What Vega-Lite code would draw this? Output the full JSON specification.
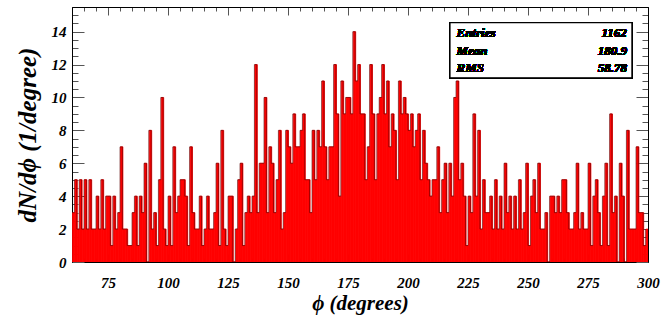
{
"$schema": "https://vega.github.io/schema/vega-lite/v6.json",
"width": 576, "height": 255,
"autosize": {"type": "none"},
"padding": {"left": 72, "top": 7, "right": 20, "bottom": 62},
"background": "white",
"config": {"view": {"stroke": "black", "strokeWidth": 1}, "font": "Liberation Serif"},
"data": {"values": [
{"lo":60,"hi":61,"n":3},{"lo":61,"hi":62,"n":5},{"lo":62,"hi":63,"n":2},{"lo":63,"hi":64,"n":5},{"lo":64,"hi":65,"n":2},{"lo":65,"hi":66,"n":5},{"lo":66,"hi":67,"n":2},{"lo":67,"hi":68,"n":5},{"lo":68,"hi":69,"n":2},{"lo":69,"hi":70,"n":2},
{"lo":70,"hi":71,"n":4},{"lo":71,"hi":72,"n":2},{"lo":72,"hi":73,"n":5},{"lo":73,"hi":74,"n":2},{"lo":74,"hi":75,"n":4},{"lo":75,"hi":76,"n":4},{"lo":76,"hi":77,"n":1},{"lo":77,"hi":78,"n":4},{"lo":78,"hi":79,"n":2},{"lo":79,"hi":80,"n":3},
{"lo":80,"hi":81,"n":7},{"lo":81,"hi":82,"n":2},{"lo":82,"hi":83,"n":2},{"lo":83,"hi":84,"n":1},{"lo":84,"hi":85,"n":1},{"lo":85,"hi":86,"n":3},{"lo":86,"hi":87,"n":4},{"lo":87,"hi":88,"n":1},{"lo":88,"hi":89,"n":4},{"lo":89,"hi":90,"n":3},
{"lo":90,"hi":91,"n":6},{"lo":91,"hi":92,"n":0},{"lo":92,"hi":93,"n":8},{"lo":93,"hi":94,"n":2},{"lo":94,"hi":95,"n":3},{"lo":95,"hi":96,"n":1},{"lo":96,"hi":97,"n":5},{"lo":97,"hi":98,"n":10},{"lo":98,"hi":99,"n":2},{"lo":99,"hi":100,"n":1},
{"lo":100,"hi":101,"n":4},{"lo":101,"hi":102,"n":1},{"lo":102,"hi":103,"n":7},{"lo":103,"hi":104,"n":3},{"lo":104,"hi":105,"n":4},{"lo":105,"hi":106,"n":5},{"lo":106,"hi":107,"n":5},{"lo":107,"hi":108,"n":4},{"lo":108,"hi":109,"n":1},{"lo":109,"hi":110,"n":7},
{"lo":110,"hi":111,"n":3},{"lo":111,"hi":112,"n":2},{"lo":112,"hi":113,"n":2},{"lo":113,"hi":114,"n":4},{"lo":114,"hi":115,"n":1},{"lo":115,"hi":116,"n":2},{"lo":116,"hi":117,"n":4},{"lo":117,"hi":118,"n":2},{"lo":118,"hi":119,"n":2},{"lo":119,"hi":120,"n":3},
{"lo":120,"hi":121,"n":6},{"lo":121,"hi":122,"n":1},{"lo":122,"hi":123,"n":8},{"lo":123,"hi":124,"n":2},{"lo":124,"hi":125,"n":1},{"lo":125,"hi":126,"n":4},{"lo":126,"hi":127,"n":4},{"lo":127,"hi":128,"n":0},{"lo":128,"hi":129,"n":2},{"lo":129,"hi":130,"n":5},
{"lo":130,"hi":131,"n":6},{"lo":131,"hi":132,"n":1},{"lo":132,"hi":133,"n":3},{"lo":133,"hi":134,"n":4},{"lo":134,"hi":135,"n":3},{"lo":135,"hi":136,"n":4},{"lo":136,"hi":137,"n":12},{"lo":137,"hi":138,"n":3},{"lo":138,"hi":139,"n":6},{"lo":139,"hi":140,"n":6},
{"lo":140,"hi":141,"n":10},{"lo":141,"hi":142,"n":3},{"lo":142,"hi":143,"n":7},{"lo":143,"hi":144,"n":6},{"lo":144,"hi":145,"n":3},{"lo":145,"hi":146,"n":5},{"lo":146,"hi":147,"n":8},{"lo":147,"hi":148,"n":2},{"lo":148,"hi":149,"n":3},{"lo":149,"hi":150,"n":8},
{"lo":150,"hi":151,"n":7},{"lo":151,"hi":152,"n":6},{"lo":152,"hi":153,"n":9},{"lo":153,"hi":154,"n":7},{"lo":154,"hi":155,"n":7},{"lo":155,"hi":156,"n":8},{"lo":156,"hi":157,"n":9},{"lo":157,"hi":158,"n":5},{"lo":158,"hi":159,"n":5},{"lo":159,"hi":160,"n":3},
{"lo":160,"hi":161,"n":8},{"lo":161,"hi":162,"n":5},{"lo":162,"hi":163,"n":8},{"lo":163,"hi":164,"n":7},{"lo":164,"hi":165,"n":11},{"lo":165,"hi":166,"n":7},{"lo":166,"hi":167,"n":5},{"lo":167,"hi":168,"n":7},{"lo":168,"hi":169,"n":7},{"lo":169,"hi":170,"n":12},
{"lo":170,"hi":171,"n":9},{"lo":171,"hi":172,"n":4},{"lo":172,"hi":173,"n":11},{"lo":173,"hi":174,"n":9},{"lo":174,"hi":175,"n":10},{"lo":175,"hi":176,"n":10},{"lo":176,"hi":177,"n":9},{"lo":177,"hi":178,"n":14},{"lo":178,"hi":179,"n":11},{"lo":179,"hi":180,"n":12},
{"lo":180,"hi":181,"n":9},{"lo":181,"hi":182,"n":9},{"lo":182,"hi":183,"n":5},{"lo":183,"hi":184,"n":7},{"lo":184,"hi":185,"n":12},{"lo":185,"hi":186,"n":9},{"lo":186,"hi":187,"n":5},{"lo":187,"hi":188,"n":9},{"lo":188,"hi":189,"n":10},{"lo":189,"hi":190,"n":12},
{"lo":190,"hi":191,"n":9},{"lo":191,"hi":192,"n":11},{"lo":192,"hi":193,"n":7},{"lo":193,"hi":194,"n":9},{"lo":194,"hi":195,"n":8},{"lo":195,"hi":196,"n":5},{"lo":196,"hi":197,"n":11},{"lo":197,"hi":198,"n":9},{"lo":198,"hi":199,"n":10},{"lo":199,"hi":200,"n":9},
{"lo":200,"hi":201,"n":8},{"lo":201,"hi":202,"n":9},{"lo":202,"hi":203,"n":7},{"lo":203,"hi":204,"n":8},{"lo":204,"hi":205,"n":9},{"lo":205,"hi":206,"n":5},{"lo":206,"hi":207,"n":8},{"lo":207,"hi":208,"n":6},{"lo":208,"hi":209,"n":5},{"lo":209,"hi":210,"n":4},
{"lo":210,"hi":211,"n":5},{"lo":211,"hi":212,"n":5},{"lo":212,"hi":213,"n":7},{"lo":213,"hi":214,"n":3},{"lo":214,"hi":215,"n":5},{"lo":215,"hi":216,"n":6},{"lo":216,"hi":217,"n":3},{"lo":217,"hi":218,"n":6},{"lo":218,"hi":219,"n":4},{"lo":219,"hi":220,"n":10},
{"lo":220,"hi":221,"n":11},{"lo":221,"hi":222,"n":5},{"lo":222,"hi":223,"n":6},{"lo":223,"hi":224,"n":4},{"lo":224,"hi":225,"n":1},{"lo":225,"hi":226,"n":4},{"lo":226,"hi":227,"n":3},{"lo":227,"hi":228,"n":9},{"lo":228,"hi":229,"n":4},{"lo":229,"hi":230,"n":8},
{"lo":230,"hi":231,"n":2},{"lo":231,"hi":232,"n":5},{"lo":232,"hi":233,"n":3},{"lo":233,"hi":234,"n":3},{"lo":234,"hi":235,"n":4},{"lo":235,"hi":236,"n":2},{"lo":236,"hi":237,"n":5},{"lo":237,"hi":238,"n":2},{"lo":238,"hi":239,"n":4},{"lo":239,"hi":240,"n":2},
{"lo":240,"hi":241,"n":6},{"lo":241,"hi":242,"n":3},{"lo":242,"hi":243,"n":4},{"lo":243,"hi":244,"n":2},{"lo":244,"hi":245,"n":4},{"lo":245,"hi":246,"n":2},{"lo":246,"hi":247,"n":5},{"lo":247,"hi":248,"n":2},{"lo":248,"hi":249,"n":3},{"lo":249,"hi":250,"n":6},
{"lo":250,"hi":251,"n":1},{"lo":251,"hi":252,"n":4},{"lo":252,"hi":253,"n":5},{"lo":253,"hi":254,"n":3},{"lo":254,"hi":255,"n":6},{"lo":255,"hi":256,"n":2},{"lo":256,"hi":257,"n":2},{"lo":257,"hi":258,"n":3},{"lo":258,"hi":259,"n":0},{"lo":259,"hi":260,"n":4},
{"lo":260,"hi":261,"n":4},{"lo":261,"hi":262,"n":3},{"lo":262,"hi":263,"n":4},{"lo":263,"hi":264,"n":3},{"lo":264,"hi":265,"n":5},{"lo":265,"hi":266,"n":5},{"lo":266,"hi":267,"n":3},{"lo":267,"hi":268,"n":2},{"lo":268,"hi":269,"n":2},{"lo":269,"hi":270,"n":3},
{"lo":270,"hi":271,"n":6},{"lo":271,"hi":272,"n":2},{"lo":272,"hi":273,"n":3},{"lo":273,"hi":274,"n":2},{"lo":274,"hi":275,"n":2},{"lo":275,"hi":276,"n":6},{"lo":276,"hi":277,"n":1},{"lo":277,"hi":278,"n":4},{"lo":278,"hi":279,"n":5},{"lo":279,"hi":280,"n":3},
{"lo":280,"hi":281,"n":1},{"lo":281,"hi":282,"n":4},{"lo":282,"hi":283,"n":6},{"lo":283,"hi":284,"n":1},{"lo":284,"hi":285,"n":9},{"lo":285,"hi":286,"n":3},{"lo":286,"hi":287,"n":4},{"lo":287,"hi":288,"n":0},{"lo":288,"hi":289,"n":6},{"lo":289,"hi":290,"n":4},
{"lo":290,"hi":291,"n":0},{"lo":291,"hi":292,"n":8},{"lo":292,"hi":293,"n":2},{"lo":293,"hi":294,"n":2},{"lo":294,"hi":295,"n":2},{"lo":295,"hi":296,"n":7},{"lo":296,"hi":297,"n":3},{"lo":297,"hi":298,"n":3},{"lo":298,"hi":299,"n":1},{"lo":299,"hi":300,"n":2}
]},
"layer": [
{"mark": {"type": "bar", "color": "#ff0000", "stroke": "#ff0000", "strokeWidth": 0.8, "clip": true, "binSpacing": 0},
 "encoding": {
  "x": {"field": "lo", "type": "quantitative", "bin": {"binned": true}, "scale": {"domain": [60, 300], "nice": false, "zero": false},
   "axis": {"orient": "bottom", "values": [60,65,70,75,80,85,90,95,100,105,110,115,120,125,130,135,140,145,150,155,160,165,170,175,180,185,190,195,200,205,210,215,220,225,230,235,240,245,250,255,260,265,270,275,280,285,290,295,300],
    "labelExpr": "datum.value % 25 === 0 ? format(datum.value, 'd') : ''",
    "tickSize": {"condition": {"test": "datum.value % 25 === 0", "value": -8}, "value": -4},
    "tickColor": "#555", "domainColor": "black", "grid": false,
    "labelPadding": 21, "labelFont": "Liberation Serif", "labelFontSize": 15, "labelFontWeight": "bold", "labelFontStyle": "italic", "labelColor": "black", "labelFlush": false, "labelOverlap": false,
    "title": "ϕ (degrees)", "titleFont": "Liberation Serif", "titleFontSize": 21, "titleFontWeight": "bold", "titleFontStyle": "italic", "titleColor": "black", "titlePadding": -2}},
  "x2": {"field": "hi"},
  "y": {"field": "n", "type": "quantitative", "scale": {"domain": [0, 15.5], "nice": false},
   "axis": {"orient": "left", "values": [0,0.5,1,1.5,2,2.5,3,3.5,4,4.5,5,5.5,6,6.5,7,7.5,8,8.5,9,9.5,10,10.5,11,11.5,12,12.5,13,13.5,14,14.5,15],
    "labelExpr": "datum.value % 2 === 0 ? format(datum.value, 'd') : ''",
    "tickSize": {"condition": {"test": "datum.value % 2 === 0", "value": -12}, "value": -6},
    "tickColor": "#555", "domainColor": "black", "grid": false,
    "labelPadding": 18, "labelFont": "Liberation Serif", "labelFontSize": 15, "labelFontWeight": "bold", "labelFontStyle": "italic", "labelColor": "black", "labelFlush": false, "labelOverlap": false,
    "title": "dN/dϕ (1/degree)", "titleFont": "Liberation Serif", "titleFontSize": 25, "titleFontWeight": "bold", "titleFontStyle": "italic", "titleColor": "black", "titlePadding": 11}}
 }},
{"mark": {"type": "line", "interpolate": "step-after", "color": "#5a0000", "strokeWidth": 0.7, "opacity": 0.85, "clip": true},
 "encoding": {
  "x": {"field": "lo", "type": "quantitative",
   "axis": {"orient": "top", "values": [60,65,70,75,80,85,90,95,100,105,110,115,120,125,130,135,140,145,150,155,160,165,170,175,180,185,190,195,200,205,210,215,220,225,230,235,240,245,250,255,260,265,270,275,280,285,290,295,300],
    "labels": false, "title": null, "grid": false, "tickColor": "#555", "domainColor": "black",
    "tickSize": {"condition": {"test": "datum.value % 25 === 0", "value": -8}, "value": -4}}},
  "y": {"field": "n", "type": "quantitative",
   "axis": {"orient": "right", "values": [0,0.5,1,1.5,2,2.5,3,3.5,4,4.5,5,5.5,6,6.5,7,7.5,8,8.5,9,9.5,10,10.5,11,11.5,12,12.5,13,13.5,14,14.5,15],
    "labels": false, "title": null, "grid": false, "tickColor": "#555", "domainColor": "black",
    "tickSize": {"condition": {"test": "datum.value % 2 === 0", "value": -12}, "value": -6}}}
 }},
{"mark": {"type": "rect", "fill": "white", "stroke": "black", "strokeWidth": 1.2},
 "encoding": {"x": {"datum": 217.5, "type": "quantitative", "axis": null}, "x2": {"datum": 293.3}, "y": {"datum": 14.55, "type": "quantitative", "axis": null}, "y2": {"datum": 11.2}}},
{"mark": {"type": "text", "text": "Entries", "align": "left", "baseline": "middle", "font": "Liberation Serif", "fontSize": 13, "fontWeight": "bold", "fontStyle": "italic", "color": "black"},
 "encoding": {"x": {"datum": 220.2, "type": "quantitative", "axis": null}, "y": {"datum": 13.95, "type": "quantitative", "axis": null}}},
{"mark": {"type": "text", "text": "Mean", "align": "left", "baseline": "middle", "font": "Liberation Serif", "fontSize": 13, "fontWeight": "bold", "fontStyle": "italic", "color": "black"},
 "encoding": {"x": {"datum": 220.2, "type": "quantitative", "axis": null}, "y": {"datum": 12.85, "type": "quantitative", "axis": null}}},
{"mark": {"type": "text", "text": "RMS", "align": "left", "baseline": "middle", "font": "Liberation Serif", "fontSize": 13, "fontWeight": "bold", "fontStyle": "italic", "color": "black"},
 "encoding": {"x": {"datum": 220.2, "type": "quantitative", "axis": null}, "y": {"datum": 11.78, "type": "quantitative", "axis": null}}},
{"mark": {"type": "text", "text": "1162", "align": "right", "baseline": "middle", "font": "Liberation Serif", "fontSize": 13, "fontWeight": "bold", "fontStyle": "italic", "color": "black"},
 "encoding": {"x": {"datum": 291.2, "type": "quantitative", "axis": null}, "y": {"datum": 13.95, "type": "quantitative", "axis": null}}},
{"mark": {"type": "text", "text": "180.9", "align": "right", "baseline": "middle", "font": "Liberation Serif", "fontSize": 13, "fontWeight": "bold", "fontStyle": "italic", "color": "black"},
 "encoding": {"x": {"datum": 291.2, "type": "quantitative", "axis": null}, "y": {"datum": 12.85, "type": "quantitative", "axis": null}}},
{"mark": {"type": "text", "text": "58.78", "align": "right", "baseline": "middle", "font": "Liberation Serif", "fontSize": 13, "fontWeight": "bold", "fontStyle": "italic", "color": "black"},
 "encoding": {"x": {"datum": 291.2, "type": "quantitative", "axis": null}, "y": {"datum": 11.78, "type": "quantitative", "axis": null}}}
],
"resolve": {"axis": {"x": "independent", "y": "independent"}}
}
